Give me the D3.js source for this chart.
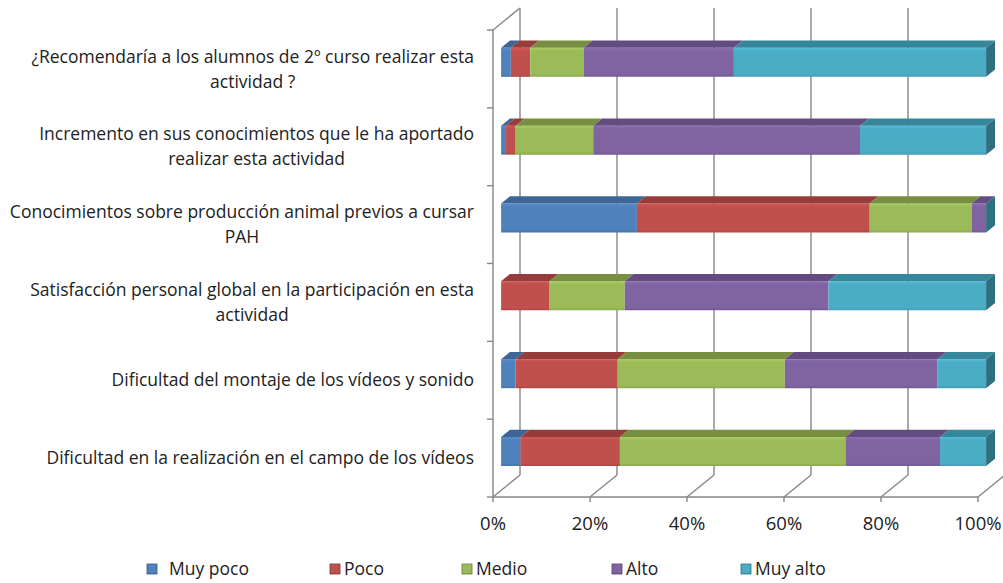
<!DOCTYPE html>
<html>

<head>
    <meta charset="utf-8">
    <title>Stacked 3D bars</title>
    <script src="https://d3js.org/d3.v7.min.js"></script>
    <style>
        body { margin: 0; background: #fff; }
        text { font-family: "Open Sans", Lato, sans-serif; fill: #222; }
    </style>
</head>

<body>
    <svg width="1003" height="583"></svg>
    <script>
        // data, top row first
        const categories = [
            ["¿Recomendaría a los alumnos de 2º curso realizar esta", "actividad ?"],
            ["Incremento en sus conocimientos que le ha aportado", "realizar esta actividad"],
            ["Conocimientos sobre producción animal previos a cursar", "PAH"],
            ["Satisfacción personal global en la participación en esta", "actividad"],
            ["Dificultad del montaje de los vídeos y sonido"],
            ["Dificultad en la realización en el campo de los vídeos"]
        ]
        const seriesNames = ["Muy poco", "Poco", "Medio", "Alto", "Muy alto"]
        const muyPoco = [2, 1, 28, 0, 3, 4]
        const poco = [4, 2, 48, 10, 21, 20.5]
        const medio = [11, 16, 21, 15.5, 34.5, 46.5]
        const alto = [31, 55, 3, 42, 31.5, 19.5]
        const muyAlto = [52, 26, 0, 32.5, 10, 9.5]
        const tickLabels = ["0%", "20%", "40%", "60%", "80%", "100%"]

        const colors = ["#4F81BD", "#C0504D", "#9BBB59", "#8064A2", "#4BACC6"]
        const topColors = ["#3D6595", "#963C3A", "#788F42", "#634C80", "#36869C"]
        const sideColors = ["#335580", "#7F3331", "#637A36", "#533F6C", "#2E6F80"]

        const svg = d3.select("svg")

        // front plane of the 3d box
        const x0 = 493, yTop = 30, yBottom = 497
        const depthX = 27, depthY = -22
        const barFront = 0.3, barBack = 0.63

        const keys = categories.map((c, i) => i)
        const rows = keys.map(i => ({
            key: i,
            "Muy poco": muyPoco[i], "Poco": poco[i], "Medio": medio[i], "Alto": alto[i], "Muy alto": muyAlto[i]
        }))

        const xScale = d3.scaleLinear().domain([0, 100]).range([0, 485])
        const yScale = d3.scaleBand().domain(keys).range([yTop, yBottom])
        const ticks = d3.range(0, 101, 20)

        const P = (v, y, d) => [x0 + xScale(v) + depthX * d, y + depthY * d]
        const poly = pts => pts.map(p => p.join(",")).join(" ")

        const grid = svg.append("g")
            .attr("stroke", "#868686")
            .attr("stroke-width", 1.4)
            .attr("fill", "none")

        // back wall gridlines
        grid.selectAll(".gl").data(ticks).enter().append("line")
            .attr("x1", d => P(d, yTop, 1)[0]).attr("y1", P(0, yTop, 1)[1])
            .attr("x2", d => P(d, yBottom, 1)[0]).attr("y2", P(0, yBottom, 1)[1])
        // floor diagonals
        grid.selectAll(".fl").data(ticks).enter().append("line")
            .attr("x1", d => P(d, yBottom, 0)[0]).attr("y1", yBottom)
            .attr("x2", d => P(d, yBottom, 1)[0]).attr("y2", P(0, yBottom, 1)[1])
        // floor front edge + ticks
        grid.append("line")
            .attr("x1", P(0, 0, 0)[0]).attr("y1", yBottom)
            .attr("x2", P(100, 0, 0)[0]).attr("y2", yBottom)
        grid.selectAll(".tk").data(ticks).enter().append("line")
            .attr("x1", d => P(d, 0, 0)[0]).attr("y1", yBottom)
            .attr("x2", d => P(d, 0, 0)[0]).attr("y2", yBottom + 5)
        // left wall
        grid.append("polyline")
            .attr("points", poly([P(0, yBottom, 0), P(0, yTop, 0), P(0, yTop, 1)]))
        grid.selectAll(".yt").data(keys.concat([null])).enter().append("line")
            .attr("x1", x0 - 6)
            .attr("x2", x0)
            .attr("y1", d => d === null ? yBottom : yScale(d))
            .attr("y2", d => d === null ? yBottom : yScale(d))

        // bars
        const stack = d3.stack().keys(seriesNames)(rows)
        const barH = 29
        const defs = svg.append("defs")
        colors.forEach((c, i) => {
            const lg = defs.append("linearGradient").attr("id", "g" + i)
                .attr("x1", 0).attr("y1", 0).attr("x2", 0).attr("y2", 1)
            lg.append("stop").attr("offset", "0").attr("stop-color", d3.color(c).brighter(0.25))
            lg.append("stop").attr("offset", "0.12").attr("stop-color", c)
            lg.append("stop").attr("offset", "0.9").attr("stop-color", c)
            lg.append("stop").attr("offset", "1").attr("stop-color", d3.color(c).darker(0.3))
        })

        const bars = svg.append("g")
        keys.forEach(k => {
            const cy = yScale(k) + yScale.bandwidth() / 2
            const y1 = cy - barH / 2, y2 = cy + barH / 2
            stack.forEach((s, si) => {
                const a = s[k][0], b = s[k][1]
                if (b - a <= 0) return
                // front face
                bars.append("polygon")
                    .attr("points", poly([P(a, y1, barFront), P(b, y1, barFront), P(b, y2, barFront), P(a, y2, barFront)]))
                    .attr("fill", "url(#g" + si + ")")
                // top face
                bars.append("polygon")
                    .attr("points", poly([P(a, y1, barFront), P(b, y1, barFront), P(b, y1, barBack), P(a, y1, barBack)]))
                    .attr("fill", topColors[si])
            })
            // end cap
            const last = seriesNames.length - 1
            bars.append("polygon")
                .attr("points", poly([P(100, y1, barFront), P(100, y1, barBack), P(100, y2, barBack), P(100, y2, barFront)]))
                .attr("fill", sideColors[last])
        })

        // category labels
        const labels = svg.append("g")
        keys.forEach(k => {
            const lines = categories[k]
            const cy = yScale(k) + yScale.bandwidth() / 2
            const lh = 25
            const t = labels.append("text")
                .attr("font-size", "17.5px")
                .attr("text-anchor", "middle")
            lines.forEach((l, li) => {
                t.append("tspan").text(l)
                    .attr("x", 0)
                    .attr("y", cy + (li - (lines.length - 1) / 2) * lh)
                    .attr("dy", "0.35em")
            })
            // right align the block, center lines inside it
            const w = t.node().getBBox().width
            const right = 474
            t.selectAll("tspan").attr("x", right - w / 2)
        })

        // x tick labels
        svg.append("g").selectAll("text").data(ticks).enter().append("text")
            .attr("x", d => P(d, 0, 0)[0])
            .attr("y", 524)
            .attr("dy", "0.35em")
            .attr("text-anchor", "middle")
            .attr("font-size", "18.5px")
            .text((d, i) => tickLabels[i])

        // legend
        const legendX = [147, 330, 462, 612, 741]
        const legend = svg.append("g")
        seriesNames.forEach((n, i) => {
            legend.append("rect")
                .attr("x", legendX[i]).attr("y", 564)
                .attr("width", 10).attr("height", 10)
                .attr("fill", "url(#g" + i + ")")
                .attr("stroke", sideColors[i]).attr("stroke-width", 0.8)
            legend.append("text")
                .attr("x", legendX[i] + (i === 0 ? 22 : 14))
                .attr("y", 569)
                .attr("dy", "0.35em")
                .attr("font-size", "17.5px")
                .text(n)
        })
    </script>
</body>

</html>
